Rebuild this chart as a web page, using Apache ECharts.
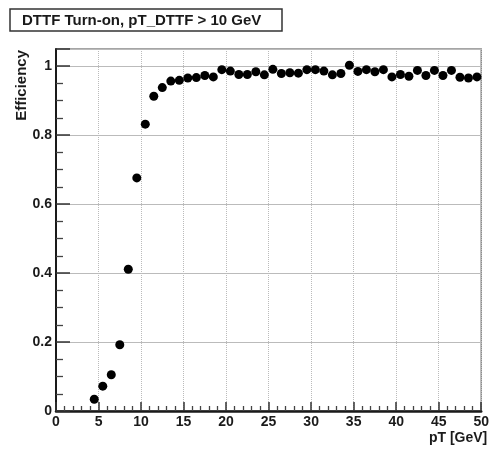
<!DOCTYPE html>
<html>
<head>
<meta charset="utf-8">
<script src="https://cdn.jsdelivr.net/npm/echarts@6/dist/echarts.min.js"></script>
<style>
  html, body { margin: 0; padding: 0; background: #fff; }
  #chart { width: 492px; height: 452px; }
</style>
</head>
<body>
<div id="chart"></div>
<script>
// bin centres (pT, GeV) and measured efficiency
const ptBins = [
  4.5, 5.5, 6.5, 7.5, 8.5, 9.5, 10.5, 11.5, 12.5, 13.5,
  14.5, 15.5, 16.5, 17.5, 18.5, 19.5, 20.5, 21.5, 22.5, 23.5,
  24.5, 25.5, 26.5, 27.5, 28.5, 29.5, 30.5, 31.5, 32.5, 33.5,
  34.5, 35.5, 36.5, 37.5, 38.5, 39.5, 40.5, 41.5, 42.5, 43.5,
  44.5, 45.5, 46.5, 47.5, 48.5, 49.5
];
const efficiency = [
  0.034, 0.072, 0.105, 0.192, 0.411, 0.676, 0.832, 0.913, 0.938, 0.957,
  0.959, 0.966, 0.967, 0.973, 0.969, 0.990, 0.986, 0.976, 0.976, 0.984,
  0.975, 0.991, 0.979, 0.981, 0.980, 0.990, 0.990, 0.986, 0.975, 0.979,
  1.003, 0.985, 0.990, 0.984, 0.990, 0.969, 0.976, 0.971, 0.988, 0.973,
  0.988, 0.973, 0.988, 0.968, 0.966, 0.969
];
const titleText = "DTTF Turn-on, pT_DTTF > 10 GeV";
const xName = "pT [GeV]";
const yName = "Efficiency";

const font = "Liberation Sans, Arial, sans-serif";
const chart = echarts.init(document.getElementById("chart"));

chart.setOption({
  backgroundColor: "#fff",
  animation: false,
  title: {
    text: titleText,
    left: 10,
    top: 9,
    padding: [4, 21, 3, 12],
    borderColor: "#333",
    borderWidth: 1.5,
    textStyle: {
      fontFamily: font,
      fontWeight: "bold",
      fontSize: 15,
      color: "#1a1a1a"
    }
  },
  grid: {
    left: 56,
    right: 10,
    top: 49,
    bottom: 41,
    show: true,
    borderColor: "#888",
    borderWidth: 1.5,
    containLabel: false
  },
  xAxis: {
    type: "value",
    min: 0,
    max: 50,
    interval: 5,
    name: xName,
    nameLocation: "end",
    nameGap: 6,
    nameTextStyle: {
      fontFamily: font,
      fontWeight: "bold",
      fontSize: 14,
      color: "#1a1a1a",
      align: "right",
      verticalAlign: "top",
      padding: [20, 0, 0, 0]
    },
    axisLine: { lineStyle: { color: "#1a1a1a", width: 2.5 } },
    axisTick: { inside: true, length: 9, lineStyle: { color: "#333", width: 1.5 } },
    minorTick: { show: true, splitNumber: 5, length: 5, lineStyle: { color: "#444", width: 1.3 } },
    axisLabel: {
      margin: 4,
      fontFamily: font,
      fontWeight: "bold",
      fontSize: 14,
      color: "#1a1a1a"
    },
    splitLine: { show: true, lineStyle: { color: "#bbb", type: "dotted", width: 1 } }
  },
  yAxis: {
    type: "value",
    min: 0,
    max: 1.05,
    interval: 0.2,
    name: yName,
    nameLocation: "end",
    nameRotate: 90,
    nameGap: -1,
    nameTextStyle: {
      fontFamily: font,
      fontWeight: "bold",
      fontSize: 15,
      color: "#1a1a1a",
      align: "right",
      verticalAlign: "bottom",
      padding: [0, 0, 27, 0]
    },
    axisLine: { show: true, lineStyle: { color: "#1a1a1a", width: 2 } },
    axisTick: { show: true, inside: true, length: 14, lineStyle: { color: "#333", width: 1.5 } },
    minorTick: { show: true, splitNumber: 4, length: 7, lineStyle: { color: "#444", width: 1.3 } },
    axisLabel: {
      margin: 4,
      fontFamily: font,
      fontWeight: "bold",
      fontSize: 14,
      color: "#1a1a1a",
      showMaxLabel: false,
      formatter: v => (v > 1.001 ? "" : String(+v.toFixed(1)))
    },
    splitLine: { show: true, lineStyle: { color: "#bbb", width: 1 } }
  },
  series: [
    {
      type: "scatter",
      symbol: "circle",
      symbolSize: 9,
      itemStyle: { color: "#000", opacity: 1 },
      data: ptBins.map((x, i) => [x, efficiency[i]])
    }
  ]
});
</script>
</body>
</html>
